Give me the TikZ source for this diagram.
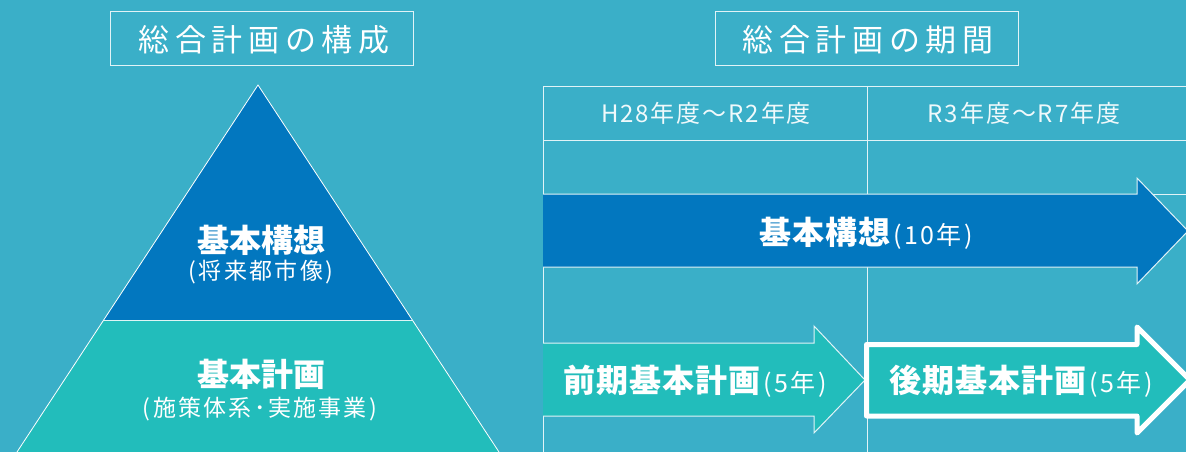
\documentclass[tikz,border=0pt]{standalone}
\usepackage{fontspec}
\setmainfont{Noto Sans CJK JP}
\definecolor{bgc}{RGB}{58,175,200}
\definecolor{dblue}{RGB}{2,119,191}
\definecolor{teal2}{RGB}{34,189,187}
\newcommand{\ls}[1]{\addfontfeature{LetterSpace=#1}}
\tikzset{
  titlebox/.style={draw=white!85!bgc, line width=1pt},
  tline/.style={draw=white!85!bgc, line width=1pt},
  boldlbl/.style={text=white, font=\fontsize{32}{34}\selectfont\bfseries, inner sep=0pt},
  sublbl/.style={text=white, font=\fontsize{23}{26}\selectfont\ls{10}, inner sep=0pt},
  headlbl/.style={text=white!92!bgc, font=\fontsize{24}{26}\selectfont\ls{8}, inner sep=0pt},
  titlelbl/.style={text=white, font=\fontsize{31}{34}\selectfont\ls{18}, inner sep=0pt},
  arrowlbl/.style={text=white, inner sep=0pt},
}
\newcommand{\bpart}[1]{{\fontsize{32}{34}\selectfont\bfseries\ls{3}#1}}
\newcommand{\ypart}[1]{{\fontsize{25}{28}\selectfont\ls{10}#1}}
\begin{document}
\begin{tikzpicture}[x=1pt,y=-1pt]
\fill[bgc] (0,0) rectangle (1186,452);
\useasboundingbox (0,0) rectangle (1186,452);

% ---- left: title
\draw[titlebox] (110,12) rectangle (413,66);
\node[titlelbl] (t1) at (264,40) {総合計画の構成};

% ---- pyramid
\coordinate (apex) at (258,85);
\coordinate (ml) at (104,320);
\coordinate (mr) at (412,320);
\coordinate (bl) at (17,452);
\coordinate (br) at (499,452);
\fill[dblue] (apex) -- (mr) -- (ml) -- cycle;
\fill[teal2] (ml) -- (mr) -- (br) -- (bl) -- cycle;
\draw[white, line width=0.8pt] (bl) -- (apex) -- (br);
\draw[white!85!teal2, line width=1pt] (ml) -- (mr);
\node[boldlbl] (k1) at (261,240) {基本構想};
\node[sublbl] (k1s) at (261,272) {(将来都市像)};
\node[boldlbl] (k2) at (261,374) {基本計画};
\node[sublbl] (k2s) at (260,409) {(施策体系･実施事業)};

% ---- right: title
\draw[titlebox] (715,12) rectangle (1018,66);
\node[titlelbl] (t2) at (868,40) {総合計画の期間};

% ---- table
\draw[tline] (543,86) -- (1186,86);
\draw[tline] (543,140) -- (1186,140);
\draw[tline] (543,194) -- (1186,194);
\draw[tline] (543,86) -- (543,452);
\draw[tline] (867,86) -- (867,452);
\node[headlbl] (h1) at (706,113) {H28年度～R2年度};
\node[headlbl] (h2) at (1024,113) {R3年度～R7年度};

% ---- blue arrow (10 years)
\fill[dblue] (543,194) -- (1137,194) -- (1137,178) -- (1188,231) -- (1137,284) -- (1137,267) -- (543,267) -- cycle;
\draw[white!85!bgc, line width=1pt] (543,194) -- (1137,194) -- (1137,178) -- (1188,231) -- (1137,284) -- (1137,267) -- (543,267);
\node[arrowlbl] (a1) at (866,233) {\bpart{基本構想}\hspace{3pt}\ypart{(10年)}};

% ---- teal arrow 1 (first half)
\fill[teal2] (543,343) -- (814,343) -- (814,326) -- (865,380) -- (814,433) -- (814,416) -- (543,416) -- cycle;
\draw[white!85!bgc, line width=1pt] (543,343) -- (814,343) -- (814,326) -- (865,380) -- (814,433) -- (814,416) -- (543,416);
\node[arrowlbl] (a2) at (695,381) {\bpart{前期基本計画}\hspace{3pt}\ypart{(5年)}};

% ---- teal arrow 2 (second half, thick white border)
\filldraw[fill=teal2, draw=white, line width=5pt, line join=round] (866.5,344.5) -- (1137,344.5) -- (1137,327) -- (1190,380) -- (1137,433) -- (1137,416) -- (866.5,416) -- cycle;
\node[arrowlbl] (a3) at (1021,381) {\bpart{後期基本計画}\hspace{3pt}\ypart{(5年)}};
\end{tikzpicture}
\end{document}
